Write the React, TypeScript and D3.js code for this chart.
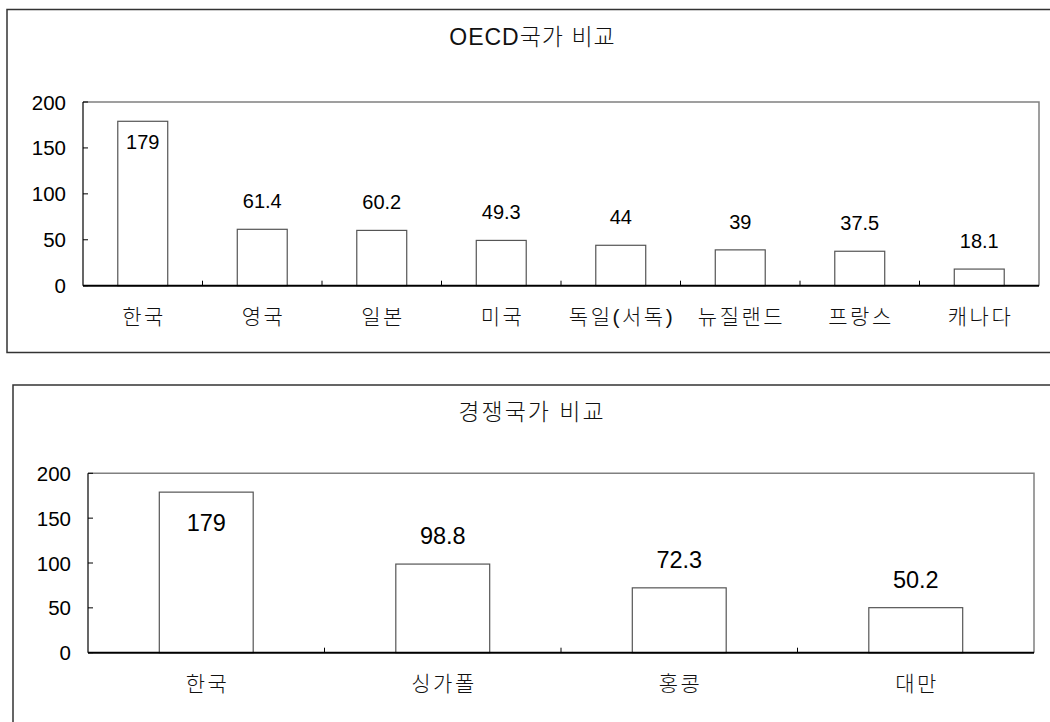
import React, { useEffect, useRef } from "react";
import * as d3 from "d3";

// OECD comparison
const oecdCountries = ["한국", "영국", "일본", "미국", "독일(서독)", "뉴질랜드", "프랑스", "캐나다"];
const oecdValues = [179, 61.4, 60.2, 49.3, 44, 39, 37.5, 18.1];

// Competitor comparison
const rivalCountries = ["한국", "싱가폴", "홍콩", "대만"];
const rivalValues = [179, 98.8, 72.3, 50.2];

const yTicks = [0, 50, 100, 150, 200];
const yMax = 200;

const FONT = "'Liberation Sans', Arial, 'Noto Sans CJK KR', sans-serif";

type PanelSpec = {
  title: string;
  categories: string[];
  values: number[];
  frame: { x: number; y: number; w: number; h: number };
  plot: { left: number; right: number; top: number; bottom: number };
  titleY: number;
  titleX: number;
  titleSpacing: number;
  barRatio: number;
  labelSize: number;
  insideOffset: number;
};

function drawPanel(g: d3.Selection<SVGGElement, unknown, null, undefined>, p: PanelSpec) {
  // outer frame
  g.append("rect")
    .attr("x", p.frame.x)
    .attr("y", p.frame.y)
    .attr("width", p.frame.w)
    .attr("height", p.frame.h)
    .attr("fill", "#fff")
    .attr("stroke", "#333")
    .attr("stroke-width", 1.5);

  g.append("text")
    .attr("x", p.titleX + p.titleSpacing / 2)
    .attr("y", p.titleY)
    .attr("text-anchor", "middle")
    .attr("dominant-baseline", "central")
    .attr("font-family", FONT)
    .attr("font-size", 23)
    .attr("font-weight", 300)
    .attr("letter-spacing", p.titleSpacing)
    .attr("fill", "#111")
    .text(p.title);

  const x = d3.scaleBand<string>().domain(p.categories).range([p.plot.left, p.plot.right]).padding(0);
  const y = d3.scaleLinear().domain([0, yMax]).range([p.plot.bottom, p.plot.top]);

  // plot border (top and right)
  g.append("path")
    .attr("d", `M${p.plot.left},${p.plot.top}H${p.plot.right}V${p.plot.bottom}`)
    .attr("fill", "none")
    .attr("stroke", "#808080")
    .attr("stroke-width", 1.5);

  // bars
  const bw = x.bandwidth() * p.barRatio;
  g.selectAll("rect.bar")
    .data(p.values)
    .enter()
    .append("rect")
    .attr("class", "bar")
    .attr("x", (_d, i) => (x(p.categories[i]) as number) + x.bandwidth() / 2 - bw / 2)
    .attr("y", (d) => y(d))
    .attr("width", bw)
    .attr("height", (d) => y(0) - y(d))
    .attr("fill", "#fff")
    .attr("stroke", "#555")
    .attr("stroke-width", 1.2);

  // value labels: inside the bar when it nearly fills the plot, above otherwise
  g.selectAll("text.val")
    .data(p.values)
    .enter()
    .append("text")
    .attr("class", "val")
    .attr("x", (_d, i) => (x(p.categories[i]) as number) + x.bandwidth() / 2)
    .attr("y", (d) => (d > yMax * 0.85 ? y(d) + p.insideOffset : y(d) - 28))
    .attr("text-anchor", "middle")
    .attr("dominant-baseline", "central")
    .attr("font-family", FONT)
    .attr("font-size", p.labelSize)
    .attr("fill", "#000")
    .text((d) => String(d));

  // y axis
  g.append("line")
    .attr("x1", p.plot.left)
    .attr("x2", p.plot.left)
    .attr("y1", p.plot.top)
    .attr("y2", p.plot.bottom)
    .attr("stroke", "#000")
    .attr("stroke-width", 1.2);
  yTicks.forEach((t) => {
    g.append("line")
      .attr("x1", p.plot.left)
      .attr("x2", p.plot.left + 5)
      .attr("y1", y(t))
      .attr("y2", y(t))
      .attr("stroke", "#000")
      .attr("stroke-width", 1);
    g.append("text")
      .attr("x", p.plot.left - 17)
      .attr("y", y(t))
      .attr("text-anchor", "end")
      .attr("dominant-baseline", "central")
      .attr("font-family", FONT)
      .attr("font-size", 20.5)
      .attr("fill", "#000")
      .text(String(t));
  });

  // x axis
  g.append("line")
    .attr("x1", p.plot.left)
    .attr("x2", p.plot.right)
    .attr("y1", y(0))
    .attr("y2", y(0))
    .attr("stroke", "#000")
    .attr("stroke-width", 2);
  const catSpacing = 2.5;
  p.categories.forEach((c, i) => {
    const x0 = x(c) as number;
    if (i > 0) {
      g.append("line")
        .attr("x1", x0)
        .attr("x2", x0)
        .attr("y1", y(0))
        .attr("y2", y(0) - 5)
        .attr("stroke", "#000")
        .attr("stroke-width", 1);
    }
    g.append("text")
      .attr("x", x0 + x.bandwidth() / 2 + catSpacing / 2)
      .attr("y", y(0) + 31)
      .attr("text-anchor", "middle")
      .attr("dominant-baseline", "central")
      .attr("font-family", FONT)
      .attr("font-size", 21)
      .attr("font-weight", 300)
      .attr("letter-spacing", catSpacing)
      .attr("fill", "#111")
      .text(c);
  });
}

export default function App() {
  const ref = useRef<SVGSVGElement | null>(null);

  useEffect(() => {
    const svg = d3.select(ref.current as SVGSVGElement);
    svg.selectAll("*").remove();

    drawPanel(svg.append("g"), {
      title: "OECD국가 비교",
      categories: oecdCountries,
      values: oecdValues,
      frame: { x: 7, y: 9.5, w: 1060, h: 343 },
      plot: { left: 83, right: 1039, top: 102, bottom: 285.7 },
      titleX: 532,
      titleY: 36.5,
      titleSpacing: 1,
      barRatio: 0.418,
      labelSize: 20,
      insideOffset: 21,
    });

    drawPanel(svg.append("g"), {
      title: "경쟁국가 비교",
      categories: rivalCountries,
      values: rivalValues,
      frame: { x: 13, y: 385, w: 1060, h: 360 },
      plot: { left: 88, right: 1034, top: 473.3, bottom: 652.7 },
      titleX: 531,
      titleY: 411.5,
      titleSpacing: 2,
      barRatio: 0.397,
      labelSize: 23.5,
      insideOffset: 31,
    });
  }, []);

  return (
    <svg
      ref={ref}
      width={1050}
      height={722}
      style={{ position: "absolute", left: 0, top: 0, background: "#fff" }}
    />
  );
}
